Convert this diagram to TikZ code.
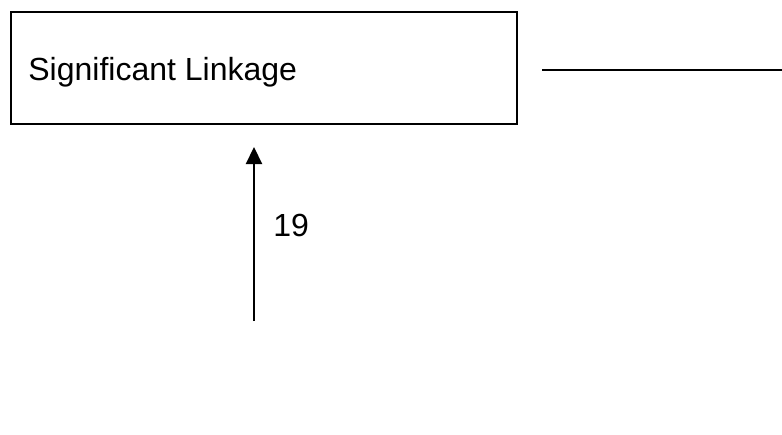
\documentclass[tikz,border=0pt]{standalone}
\usepackage{fontspec}
\setmainfont{Liberation Sans}
\usetikzlibrary{arrows.meta}
\begin{document}
\begin{tikzpicture}[x=0.5pt,y=-0.5pt,
  frame/.style={draw=black,line width=1.2pt,minimum width=253pt,minimum height=56pt,inner sep=0pt},
  lbl/.style={font=\fontsize{16}{19}\selectfont,inner sep=0pt},
  link/.style={draw=black,line width=0.9pt},
  uparrow/.style={draw=black,line width=1.1pt,-{Triangle[width=8pt,length=8.5pt]}}]
  \useasboundingbox (0,0) rectangle (782,434);
  % box with its caption
  \node[frame] (box) at (264,68) {};
  \node[lbl,anchor=base west] (boxtext) at (28,80) {Significant Linkage};
  % horizontal rule to the right
  \coordinate (ruleA) at (542,70);
  \coordinate (ruleB) at (782,70);
  \draw[link] (ruleA) -- (ruleB);
  % arrow with count
  \coordinate (arrFrom) at (254,321);
  \coordinate (arrTo) at (254,147);
  \draw[uparrow] (arrFrom) -- (arrTo);
  \node[lbl,anchor=base west] (count) at (273,236) {19};
\end{tikzpicture}
\end{document}
